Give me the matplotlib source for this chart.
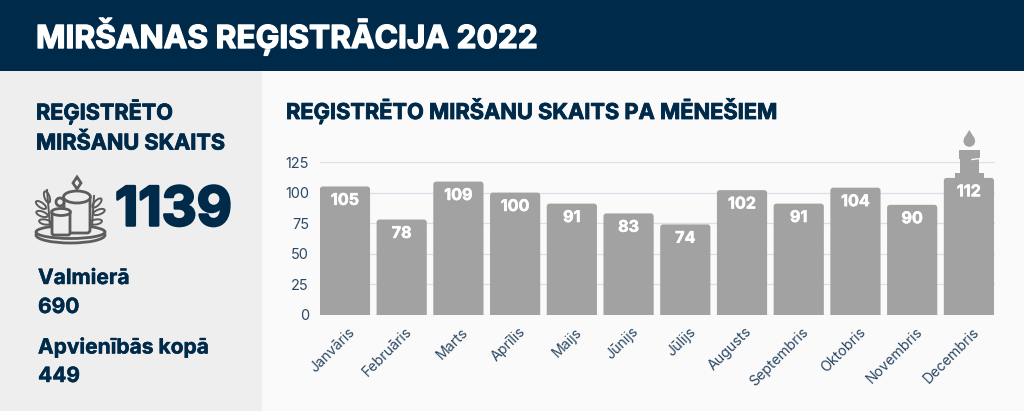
import matplotlib
matplotlib.use("Agg")
import matplotlib.pyplot as plt
from matplotlib.patches import Rectangle, FancyBboxPatch, Ellipse, Polygon, Circle
from matplotlib.transforms import ScaledTranslation
import matplotlib.patheffects as pe

months = ["Janvāris", "Februāris", "Marts", "Aprīlis", "Maijs", "Jūnijs", "Jūlijs",
          "Augusts", "Septembris", "Oktobris", "Novembris", "Decembris"]
deaths = [105, 78, 109, 100, 91, 83, 74, 102, 91, 104, 90, 112]
yticks = [0, 25, 50, 75, 100, 125]

title = "MIRŠANAS REĢISTRĀCIJA 2022"
chart_title = "REĢISTRĒTO MIRŠANU SKAITS PA MĒNEŠIEM"
side_title = ["REĢISTRĒTO", "MIRŠANU SKAITS"]
total = "1139"
side_rows = [("Valmierā", "690"), ("Apvienībās kopā", "449")]

NAVY = "#002a4a"
GREY = "#a2a2a2"
ICON = "#5c5c5c"
PANEL = "#eeeeee"
W, H = 1024, 411
plt.rcParams["font.family"] = ["Inter", "DejaVu Sans"]

fig = plt.figure(figsize=(W / 100, H / 100), dpi=100, facecolor="#fafafa")

# page furniture, in pixel coords
bg = fig.add_axes([0, 0, 1, 1])
bg.set_xlim(0, W)
bg.set_ylim(H, 0)
bg.axis("off")
bg.add_patch(Rectangle((0, 71), 262, H - 71, fc=PANEL, ec="none"))
bg.add_patch(Rectangle((0, 0), W, 71, fc=NAVY, ec="none"))


def heavy(x, y, s, size, color=NAVY, width=0.5):
    t = bg.text(x, y, s, fontsize=size, fontweight="bold", color=color, va="center", ha="left")
    t.set_path_effects([pe.withStroke(linewidth=width, foreground=color)])
    return t


heavy(36, 36, title, 22.8, "white", 1.0)
heavy(286, 111, chart_title, 15.7, NAVY, 0.6)
heavy(36, 112, side_title[0], 15.6, NAVY, 0.6)
heavy(36, 143, side_title[1], 15.6, NAVY, 0.6)
heavy(115, 211, total, 39, NAVY, 1.8)
for (label, val), y0 in zip(side_rows, [278, 347]):
    heavy(38, y0, label, 15.1, NAVY, 0.3)
    heavy(38, y0 + 29, val, 15.1, NAVY, 0.3)

# candles icon
lw = 2.0
bg.add_patch(Ellipse((70.5, 235), 69, 16, fc="none", ec=ICON, lw=lw))
bg.add_patch(Ellipse((70.5, 232), 69, 13, fc=PANEL, ec=ICON, lw=lw))
leaves = [(47, 197, 70), (41, 205, 35), (42, 214, 20), (45, 222, 10),
          (97, 203, -45), (99, 212, -20), (96, 222, -10)]
bg.plot([47, 50], [190, 226], color=ICON, lw=lw - 0.6)
bg.plot([94, 92], [196, 226], color=ICON, lw=lw - 0.6)
for lx, ly, ang in leaves:
    bg.add_patch(Ellipse((lx, ly), 12, 5, angle=ang, fc=PANEL, ec=ICON, lw=lw - 0.6))
bg.add_patch(FancyBboxPatch((64, 197), 26, 36, boxstyle="round,pad=0,rounding_size=3",
                            fc=PANEL, ec=ICON, lw=lw))
bg.add_patch(Ellipse((77, 197), 27, 12, fc=PANEL, ec=ICON, lw=lw))
bg.add_patch(Polygon([(77, 177), (81, 183), (77, 189), (73, 183)], fc=PANEL, ec=ICON, lw=lw))
bg.add_patch(FancyBboxPatch((52, 212), 18, 23, boxstyle="round,pad=0,rounding_size=2",
                            fc=PANEL, ec=ICON, lw=lw))
bg.add_patch(Ellipse((61, 212), 19, 7, fc=PANEL, ec=ICON, lw=lw))
bg.add_patch(Circle((60, 202), 4, fc=PANEL, ec=ICON, lw=lw))

# chart: zero at y=315, 125 at y=162
ax = fig.add_axes([320 / W, 1 - 315 / H, 675 / W, 153 / H])
ax.patch.set_alpha(0)
xs = list(range(len(months)))
ax.set_xlim(-0.44, 11.46)
ax.set_ylim(0, 125)
ax.set_axisbelow(True)
ax.grid(axis="y", color="#d9e0ea", lw=0.9)
ax.spines[:].set_visible(False)
ax.set_yticks(yticks)
ax.tick_params(axis="y", length=0, pad=8, labelsize=10.4, labelcolor="#2a4763")
ax.tick_params(axis="x", length=0, pad=7, labelsize=10.2, labelcolor="#2a4763")
ax.set_xticks(xs)
ax.set_xticklabels(months, rotation=45, ha="right", rotation_mode="anchor")
shift = ScaledTranslation(3 / 100, 0, fig.dpi_scale_trans)
for lab in ax.get_xticklabels():
    lab.set_transform(lab.get_transform() + shift)

bars = ax.bar(xs, deaths, width=0.885, color="none")
aspect = (675 / 11.9) / (153 / 125)  # x px per unit over y px per unit
for b, v in zip(bars, deaths):
    # rounded top; lower corners hang below zero and get clipped by the axes
    box = FancyBboxPatch((b.get_x(), -10), b.get_width(), v + 10,
                         boxstyle="round,pad=0,rounding_size=0.05",
                         mutation_aspect=aspect, fc=GREY, ec="none", zorder=2)
    ax.add_patch(box)
    t = ax.annotate(str(v), (b.get_x() + b.get_width() / 2, v), xytext=(0, -10),
                    textcoords="offset points", ha="center", va="center",
                    color="white", fontsize=11.6, fontweight="bold", zorder=3)
    t.set_path_effects([pe.withStroke(linewidth=0.4, foreground="white")])

# candle on top of the last bar
top = fig.add_axes([0, 0, 1, 1])
top.set_xlim(0, W)
top.set_ylim(H, 0)
top.axis("off")
top.add_patch(Rectangle((955, 173), 29, 5, fc=GREY, ec="none"))
top.add_patch(Rectangle((960, 159), 19, 14, fc=GREY, ec="none"))
top.add_patch(FancyBboxPatch((959, 150), 21, 9, boxstyle="round,pad=0,rounding_size=0.5", fc=GREY, ec="none"))
top.plot([972, 980], [159.5, 158.5], color="#fafafa", lw=1)
top.add_patch(Circle((969.3, 141), 5.8, fc=GREY, ec="none"))
top.add_patch(Polygon([(964, 138.5), (969.3, 130), (974.6, 138.5)], fc=GREY, ec="none"))

fig.savefig("out.png", dpi=100, facecolor=fig.get_facecolor())
